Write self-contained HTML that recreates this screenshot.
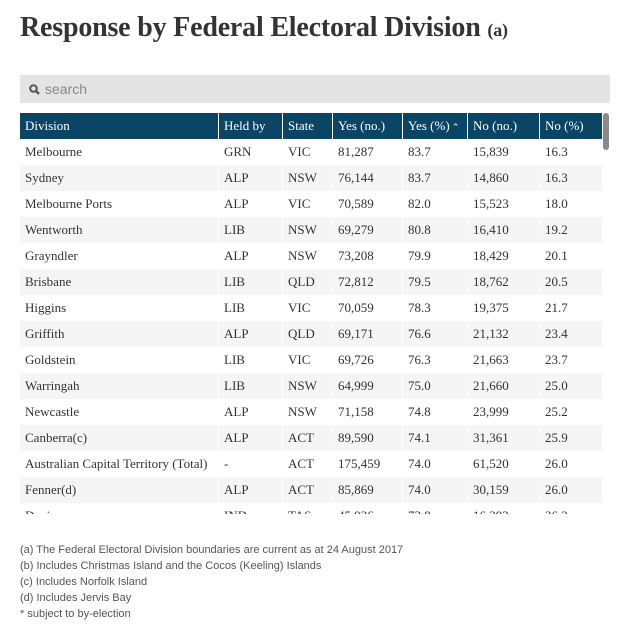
<!DOCTYPE html>
<html><head><meta charset="utf-8">
<style>
body{margin:0;background:#fff;width:627px;height:629px;overflow:hidden;position:relative;font-family:"Liberation Serif",serif;}
h1{position:absolute;left:20px;top:12px;margin:0;font-size:28px;font-weight:bold;color:#333;letter-spacing:-0.2px;white-space:nowrap}
h1 small{font-size:18px}
.search{position:absolute;left:20px;top:75px;width:590px;height:28px;background:#e4e4e4;font-family:"Liberation Sans",sans-serif;font-size:14px;color:#888;line-height:28px}
.search span{position:absolute;left:25px;top:0}
.wrap{position:absolute;left:20px;top:113px;width:583px;height:401px;overflow:hidden}
table{border-collapse:separate;border-spacing:1px 0;margin-left:-1px;font-size:13px;color:#333}
th{background:#0b4566;color:#fff;font-weight:normal;text-align:left;height:26px;padding:0 0 0 5px;font-size:13px}
td{height:26px;padding:0 0 0 5px}
tr:nth-child(even) td{background:#f5f5f5}
.sb{position:absolute;left:603px;top:113px;width:6px;height:37px;background:#8a8a8a;border-radius:3px}
.notes{position:absolute;left:20px;top:542px;font-family:"Liberation Sans",sans-serif;font-size:11px;color:#555;line-height:16px}
</style></head><body>
<h1>Response by Federal Electoral Division <small>(a)</small></h1>
<div class="search">
<svg style="position:absolute;left:9px;top:9px" width="11" height="11" viewBox="0 0 11 11"><circle cx="4.5" cy="4.5" r="3.3" stroke="#555" stroke-width="2" fill="none"/><line x1="7" y1="7" x2="10" y2="10" stroke="#555" stroke-width="2.4"/></svg>
<span>search</span></div>
<div class="wrap">
<table>
<colgroup><col style="width:198px"><col style="width:63px"><col style="width:49px"><col style="width:69px"><col style="width:64px"><col style="width:71px"><col style="width:62px"></colgroup>
<thead><tr>
<th>Division</th>
<th>Held by</th>
<th>State</th>
<th>Yes (no.)</th>
<th>Yes (%)<span style="font-size:9px"> &#8963;</span></th>
<th>No (no.)</th>
<th>No (%)</th>
</tr></thead>
<tbody id="tb"></tbody></table></div>
<div class="sb"></div>
<div class="notes">
(a) The Federal Electoral Division boundaries are current as at 24 August 2017<br>
(b) Includes Christmas Island and the Cocos (Keeling) Islands<br>
(c) Includes Norfolk Island<br>
(d) Includes Jervis Bay<br>
* subject to by-election</div>
<script>
const divisions=["Melbourne","Sydney","Melbourne Ports","Wentworth","Grayndler","Brisbane","Higgins","Griffith","Goldstein","Warringah","Newcastle","Canberra(c)","Australian Capital Territory (Total)","Fenner(d)","Denison"];
const heldBy=["GRN","ALP","ALP","LIB","ALP","LIB","LIB","ALP","LIB","LIB","ALP","ALP","-","ALP","IND"];
const states=["VIC","NSW","VIC","NSW","NSW","QLD","VIC","QLD","VIC","NSW","NSW","ACT","ACT","ACT","TAS"];
const yesNo=["81,287","76,144","70,589","69,279","73,208","72,812","70,059","69,171","69,726","64,999","71,158","89,590","175,459","85,869","45,926"];
const yesPct=["83.7","83.7","82.0","80.8","79.9","79.5","78.3","76.6","76.3","75.0","74.8","74.1","74.0","74.0","73.8"];
const noNo=["15,839","14,860","15,523","16,410","18,429","18,762","19,375","21,132","21,663","21,660","23,999","31,361","61,520","30,159","16,392"];
const noPct=["16.3","16.3","18.0","19.2","20.1","20.5","21.7","23.4","23.7","25.0","25.2","25.9","26.0","26.0","26.2"];
const tb=document.getElementById('tb');
divisions.forEach((d,i)=>{
 const tr=document.createElement('tr');
 
 
 [d,heldBy[i],states[i],yesNo[i],yesPct[i],noNo[i],noPct[i]].forEach(v=>{
  const td=document.createElement('td');td.textContent=v;
  
  
  tr.appendChild(td);});
 tb.appendChild(tr);});
</script>
</body></html>
